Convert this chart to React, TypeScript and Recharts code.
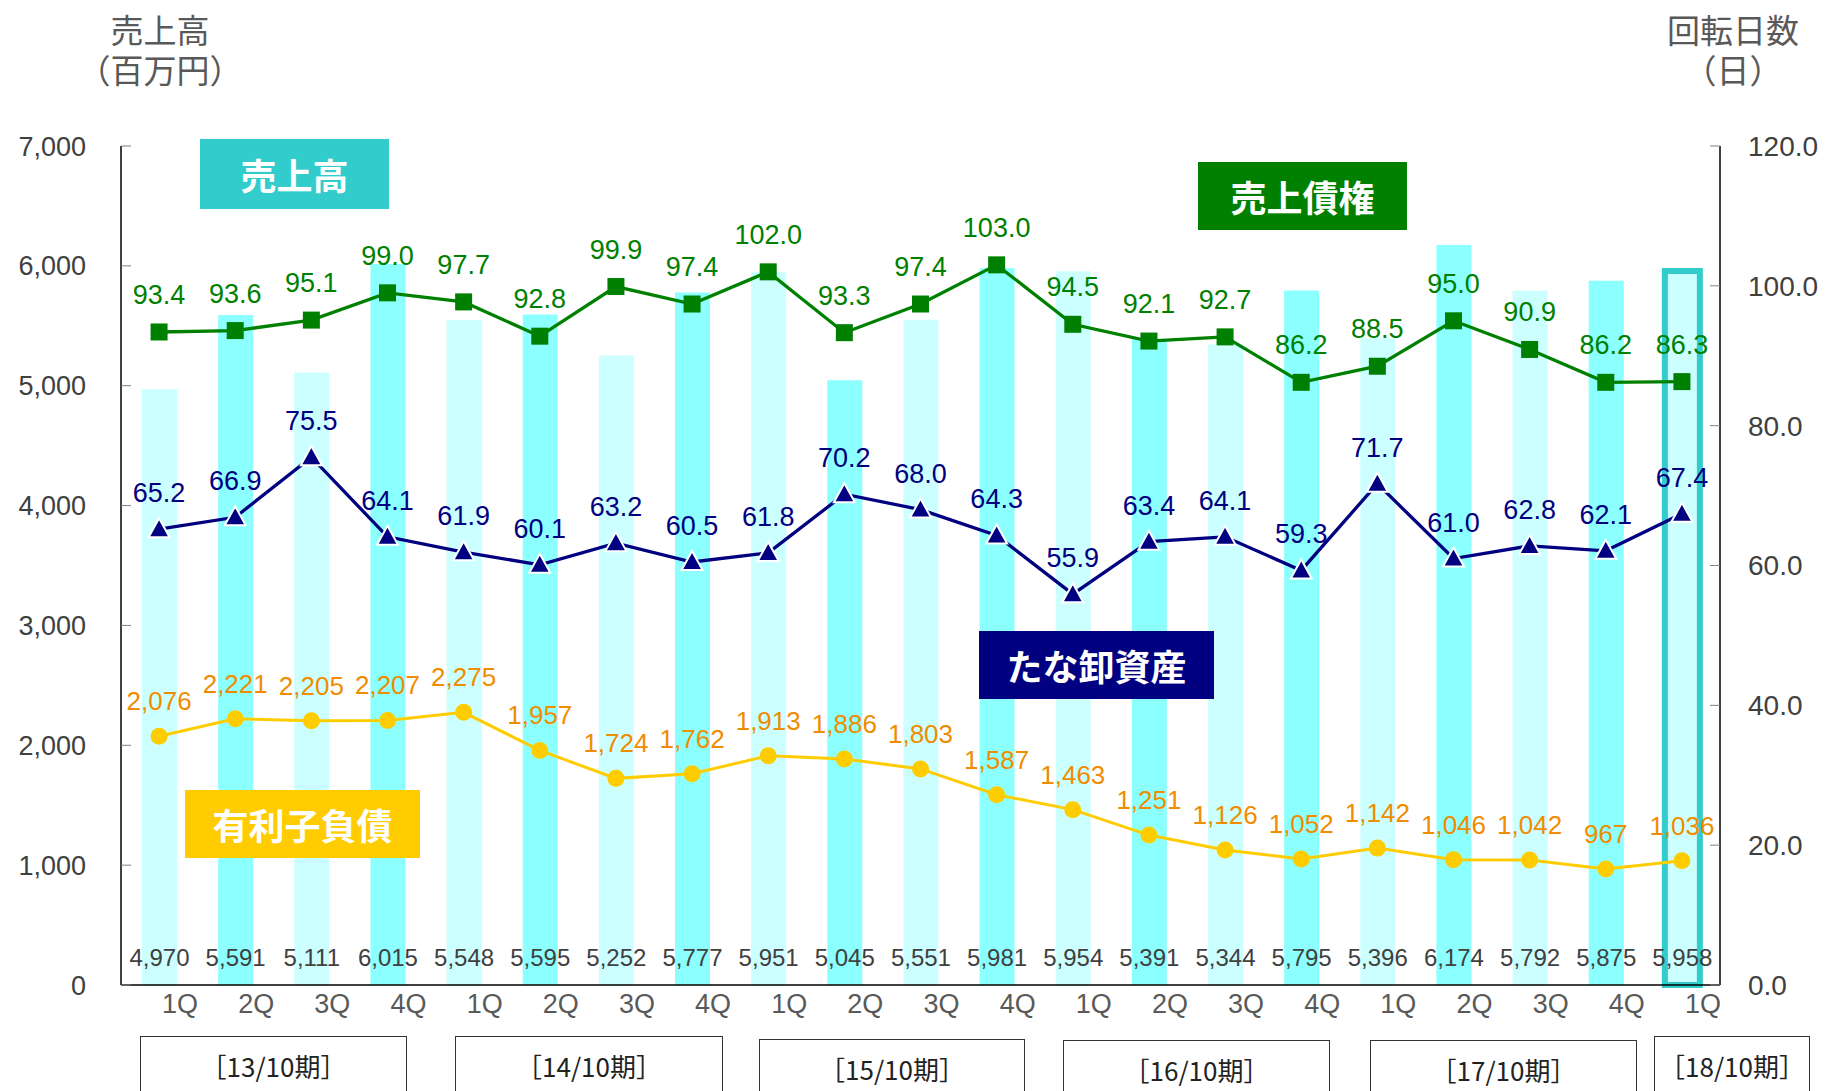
import React from 'react';
import { ComposedChart, Bar, Line, XAxis, YAxis, LabelList, Cell } from 'recharts';

const quarters = ['1Q', '2Q', '3Q', '4Q', '1Q', '2Q', '3Q', '4Q', '1Q', '2Q', '3Q', '4Q', '1Q', '2Q', '3Q', '4Q', '1Q', '2Q', '3Q', '4Q', '1Q'];
const sales = [4970, 5591, 5111, 6015, 5548, 5595, 5252, 5777, 5951, 5045, 5551, 5981, 5954, 5391, 5344, 5795, 5396, 6174, 5792, 5875, 5958];
const receivableDays = [93.4, 93.6, 95.1, 99.0, 97.7, 92.8, 99.9, 97.4, 102.0, 93.3, 97.4, 103.0, 94.5, 92.1, 92.7, 86.2, 88.5, 95.0, 90.9, 86.2, 86.3];
const inventoryDays = [65.2, 66.9, 75.5, 64.1, 61.9, 60.1, 63.2, 60.5, 61.8, 70.2, 68.0, 64.3, 55.9, 63.4, 64.1, 59.3, 71.7, 61.0, 62.8, 62.1, 67.4];
const debt = [2076, 2221, 2205, 2207, 2275, 1957, 1724, 1762, 1913, 1886, 1803, 1587, 1463, 1251, 1126, 1052, 1142, 1046, 1042, 967, 1036];
const periods = ['13/10期', '14/10期', '15/10期', '16/10期', '17/10期', '18/10期'];
const leftTicks = [0, 1000, 2000, 3000, 4000, 5000, 6000, 7000];
const rightTicks = [0, 20, 40, 60, 80, 100, 120];

const data = quarters.map((q, i) => ({
  q,
  sales: sales[i],
  receivable: receivableDays[i],
  inventory: inventoryDays[i],
  debt: debt[i],
}));

const latest = data.length - 1;

const NUM_FONT = "'Liberation Sans', Arial, sans-serif";
const JP_FONT = "'Noto Sans CJK JP', 'Noto Sans', sans-serif";

// where the period boxes and series tags sit (layout only)
const periodBoxes = [
  { left: 140, width: 267, top: 1036 },
  { left: 455, width: 268, top: 1036 },
  { left: 759, width: 266, top: 1039 },
  { left: 1063, width: 267, top: 1040 },
  { left: 1370, width: 267, top: 1040 },
  { left: 1654, width: 156, top: 1036 },
];

const tags = [
  { text: '売上高', bg: '#33CCCC', left: 200, top: 139, width: 189, height: 70 },
  { text: '売上債権', bg: '#008000', left: 1198, top: 162, width: 209, height: 68 },
  { text: 'たな卸資産', bg: '#000080', left: 979, top: 631, width: 235, height: 68 },
  { text: '有利子負債', bg: '#FFCC00', left: 185, top: 790, width: 235, height: 68 },
];

const fmtComma = (v: any) => Number(v).toLocaleString('en-US');
const fmtDays = (v: any) => Number(v).toFixed(1);

const SquareDot = (props: any) => {
  const { cx, cy, index } = props;
  if (cx == null || cy == null) return null;
  return <rect key={`sq-${index}`} x={cx - 8.5} y={cy - 8.5} width={17} height={17} fill="#008000" />;
};

const TriangleDot = (props: any) => {
  const { cx, cy, index } = props;
  if (cx == null || cy == null) return null;
  return (
    <polygon
      key={`tri-${index}`}
      points={`${cx},${cy - 11} ${cx - 10.5},${cy + 8} ${cx + 10.5},${cy + 8}`}
      fill="#000080"
      stroke="#ffffff"
      strokeWidth={2}
    />
  );
};

const CircleDot = (props: any) => {
  const { cx, cy, index } = props;
  if (cx == null || cy == null) return null;
  return <circle key={`ci-${index}`} cx={cx} cy={cy} r={8.5} fill="#FFCC00" />;
};

// axis titles drawn as svg text so the two lines sit tight like the original
const AxisTitle = ({ lines, cx }: { lines: string[]; cx: number }) => (
  <svg width={220} height={95} style={{ position: 'absolute', left: cx - 110, top: 0 }}>
    {lines.map((l, i) => (
      <text
        key={l}
        x={110}
        y={43 + i * 40}
        textAnchor="middle"
        fill="#595959"
        fontFamily={JP_FONT}
        fontSize={33}
      >
        {l}
      </text>
    ))}
  </svg>
);

export default function App() {
  return (
    <div style={{ position: 'absolute', left: 0, top: 0, width: 1825, height: 1091, overflow: 'hidden', background: '#fff' }}>
      <ComposedChart
        width={1825}
        height={1091}
        data={data}
        margin={{ top: 146, right: 5, bottom: 66, left: 21 }}
        barSize={35}
      >
        <XAxis
          dataKey="q"
          height={40}
          axisLine={{ stroke: '#000', strokeWidth: 1.5 }}
          tickLine={false}
          tickSize={0}
          tickMargin={9}
          interval={0}
          tick={{ fill: '#595959', fontSize: 27, fontFamily: NUM_FONT, dx: 21 }}
        />
        <YAxis
          yAxisId="left"
          width={100}
          domain={[0, 7000]}
          ticks={leftTicks}
          tickFormatter={fmtComma}
          axisLine={{ stroke: '#000', strokeWidth: 1.5 }}
          tickLine={{ stroke: '#808080' }}
          tickSize={-10}
          tickMargin={45}
          tick={{ fill: '#404040', fontSize: 27, fontFamily: NUM_FONT }}
        />
        <YAxis
          yAxisId="right"
          orientation="right"
          width={100}
          domain={[0, 120]}
          ticks={rightTicks}
          tickFormatter={fmtDays}
          axisLine={{ stroke: '#000', strokeWidth: 1.5 }}
          tickLine={{ stroke: '#808080' }}
          tickSize={-10}
          tickMargin={38}
          tick={{ fill: '#404040', fontSize: 28, fontFamily: NUM_FONT }}
        />
        <Bar yAxisId="left" dataKey="sales" isAnimationActive={false}>
          {data.map((d, i) => (
            <Cell
              key={i}
              fill={d.q === '2Q' || d.q === '4Q' ? '#8CFFFF' : '#CCFFFF'}
              stroke={i === latest ? '#33CCCC' : 'none'}
              strokeWidth={i === latest ? 6 : 0}
            />
          ))}
          <LabelList
            dataKey="sales"
            position="insideBottom"
            offset={19}
            formatter={fmtComma}
            fill="#404040"
            fontSize={24}
            fontFamily={NUM_FONT}
          />
        </Bar>
        <Line
          yAxisId="left"
          dataKey="debt"
          stroke="#FFCC00"
          strokeWidth={3}
          dot={CircleDot}
          activeDot={false}
          isAnimationActive={false}
        >
          <LabelList dataKey="debt" position="top" offset={26} formatter={fmtComma} fill="#F08C00" fontSize={26} fontFamily={NUM_FONT} />
        </Line>
        <Line
          yAxisId="right"
          dataKey="inventory"
          stroke="#000080"
          strokeWidth={3.3}
          dot={TriangleDot}
          activeDot={false}
          isAnimationActive={false}
        >
          <LabelList dataKey="inventory" position="top" offset={27} formatter={fmtDays} fill="#000080" fontSize={27} fontFamily={NUM_FONT} />
        </Line>
        <Line
          yAxisId="right"
          dataKey="receivable"
          stroke="#008000"
          strokeWidth={3.3}
          dot={SquareDot}
          activeDot={false}
          isAnimationActive={false}
        >
          <LabelList dataKey="receivable" position="top" offset={28} formatter={fmtDays} fill="#008000" fontSize={27} fontFamily={NUM_FONT} />
        </Line>
      </ComposedChart>

      <AxisTitle lines={['売上高', '（百万円）']} cx={160} />
      <AxisTitle lines={['回転日数', '（日）']} cx={1733} />

      {tags.map((t) => (
        <div
          key={t.text}
          style={{
            position: 'absolute',
            left: t.left,
            top: t.top,
            width: t.width,
            height: t.height,
            background: t.bg,
            color: '#fff',
            fontFamily: JP_FONT,
            fontWeight: 700,
            fontSize: 36,
            display: 'flex',
            alignItems: 'center',
            justifyContent: 'center',
          }}
        >
          {t.text}
        </div>
      ))}

      {periods.map((p, i) => (
        <div
          key={p}
          style={{
            position: 'absolute',
            left: periodBoxes[i].left,
            top: periodBoxes[i].top,
            width: periodBoxes[i].width,
            height: 70,
            boxSizing: 'border-box',
            border: '1.5px solid #333',
            color: '#222',
            fontFamily: JP_FONT,
            fontSize: 26,
            textAlign: 'center',
            paddingTop: 10,
          }}
        >
          ［{p}］
        </div>
      ))}
    </div>
  );
}
